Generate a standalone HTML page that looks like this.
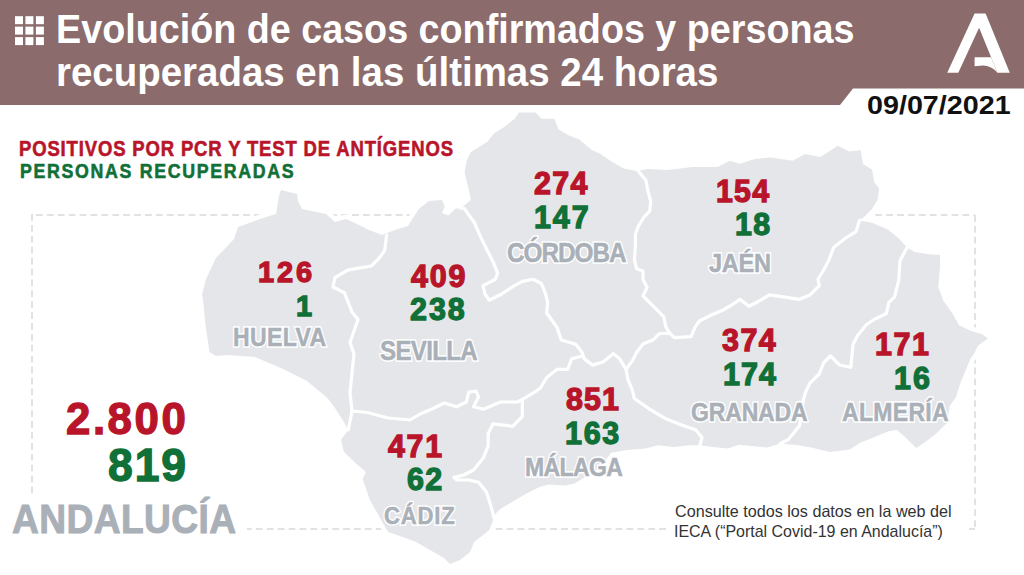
<!DOCTYPE html>
<html><head><meta charset="utf-8"><style>
html,body{margin:0;padding:0;background:#fff;}
body{width:1024px;height:575px;position:relative;overflow:hidden;font-family:"Liberation Sans",sans-serif;}
.t{position:absolute;white-space:nowrap;transform-origin:0 0;}
</style></head><body>
<svg width="1024" height="575" style="position:absolute;left:0;top:0">
<path d="M36,215 H975 M975,215 V529 M975,529 H969 M666,529 H247 M32,214 V494.5" fill="none" stroke="#d9d9d9" stroke-width="1.5" stroke-dasharray="6.8,4.1"/>
<polygon points="281.0,190.0 297.0,194.0 298.0,201.0 302.0,209.0 326.0,214.0 335.0,222.0 346.0,219.0 357.0,224.0 369.0,230.0 382.0,235.0 395.0,230.0 408.0,226.0 418.7,209.0 429.0,201.0 442.0,200.0 444.7,206.5 442.0,213.0 448.6,215.6 455.0,209.0 463.0,206.5 470.9,200.0 468.8,189.7 464.6,173.0 466.7,160.5 470.9,152.1 487.5,141.7 493.8,133.4 504.2,127.1 514.7,118.8 518.8,112.5 535.5,112.5 541.8,118.8 554.3,118.8 558.5,129.2 569.0,135.5 579.3,139.6 591.8,150.0 600.0,153.8 611.5,161.5 623.0,168.2 636.3,171.0 647.8,169.1 667.5,170.0 692.6,167.0 717.6,167.0 730.0,160.7 739.5,163.8 755.0,159.0 770.8,157.5 792.7,160.7 805.0,154.0 820.0,157.0 829.0,151.5 838.0,145.8 849.4,151.5 860.7,150.3 863.0,164.0 872.0,169.5 874.2,182.0 879.2,188.8 877.6,200.0 872.0,209.0 864.0,217.0 859.5,220.4 872.0,222.7 887.8,229.4 899.0,238.5 907.0,247.5 915.0,252.0 928.5,254.3 940.0,255.0 940.0,266.0 938.3,287.0 943.5,300.9 952.2,313.0 959.0,325.2 971.3,331.0 981.7,334.0 987.8,338.3 983.5,341.7 978.3,345.2 974.8,352.2 970.4,359.0 966.0,369.6 960.9,381.7 955.7,397.4 949.7,406.0 947.0,423.0 935.8,434.0 924.7,442.4 916.3,448.0 905.0,436.9 896.9,430.0 888.5,431.3 874.6,436.9 860.7,442.4 849.6,449.4 830.0,452.0 813.4,448.0 796.7,445.0 780.0,443.8 767.0,447.5 739.0,444.7 728.0,448.4 713.0,446.9 700.0,445.3 689.0,445.3 673.8,446.9 658.0,445.3 645.6,448.4 627.0,450.0 611.2,452.7 598.6,469.0 582.0,479.0 574.0,483.8 564.6,485.4 548.9,484.6 539.5,487.0 527.0,493.2 511.3,502.6 500.4,509.0 495.7,513.6 492.5,521.4 489.4,530.0 482.0,536.0 474.0,542.0 470.0,552.0 460.0,560.0 450.0,564.0 444.0,558.0 430.0,550.0 416.0,542.0 400.0,536.0 388.0,532.0 380.0,518.0 370.0,500.0 362.6,479.0 366.0,472.0 356.5,464.0 344.0,452.0 341.0,440.0 344.0,435.6 348.0,430.0 344.5,423.0 336.0,409.5 329.0,400.0 325.6,396.5 307.0,381.0 281.0,368.0 255.0,357.0 229.0,355.0 216.0,356.0 209.5,352.0 205.6,326.0 203.0,300.0 202.0,295.0 206.0,279.0 216.0,258.0 234.0,239.0 238.0,227.0 260.0,219.0 276.0,214.0 279.0,196.0" fill="#e5e6e9" stroke="#ffffff" stroke-width="9" stroke-linejoin="round" paint-order="stroke"/>
<polyline points="386.6,235.0 384.7,250.6 379.0,258.3 371.3,266.0 348.3,269.8 335.0,277.5 333.0,287.0 344.5,292.8 352.0,312.0 358.0,319.6 354.0,331.0 350.0,342.6 354.0,354.0 352.0,373.0 350.0,392.4 352.0,411.0 348.3,430.0" fill="none" stroke="#ffffff" stroke-width="3.2" stroke-linejoin="round" stroke-linecap="round"/>
<polyline points="352.0,411.0 367.5,412.5 388.0,418.0 410.0,420.0 420.0,414.0 432.0,409.0 444.4,403.0 456.5,406.8 466.3,402.0 468.7,392.2 476.0,391.0 478.5,397.0 473.6,406.8 483.3,409.2 500.4,402.0 517.4,402.0 522.3,399.5" fill="none" stroke="#ffffff" stroke-width="3.2" stroke-linejoin="round" stroke-linecap="round"/>
<polyline points="460.0,208.0 464.2,208.3 474.6,223.0 480.9,237.6 487.1,250.0 493.4,262.6 497.6,273.0 495.5,279.3 483.0,285.6 485.0,294.0 489.2,300.2 501.7,294.0 514.3,285.6 522.6,281.4 533.0,279.3 541.4,283.5 545.6,294.0 547.7,302.5 546.7,313.0 557.1,327.6 561.3,340.0 575.9,344.3 582.2,352.6 584.3,358.9" fill="none" stroke="#ffffff" stroke-width="3.2" stroke-linejoin="round" stroke-linecap="round"/>
<polyline points="584.3,358.9 592.6,365.1 603.0,362.0 613.5,353.6 619.7,358.9 626.0,369.3" fill="none" stroke="#ffffff" stroke-width="3.2" stroke-linejoin="round" stroke-linecap="round"/>
<polyline points="582.0,356.0 571.7,358.9 567.6,369.3 557.1,369.3 546.7,377.6 540.4,388.0 534.5,392.2 522.3,399.5" fill="none" stroke="#ffffff" stroke-width="3.2" stroke-linejoin="round" stroke-linecap="round"/>
<polyline points="522.3,399.5 522.3,416.5 512.6,426.3 493.0,423.8 488.2,433.6 488.2,445.8 483.3,458.0 473.6,470.0 463.8,475.0 454.0,477.4 456.5,480.0 468.7,480.0 478.5,482.3 486.3,491.7 489.4,501.0 492.5,512.0 494.0,518.0" fill="none" stroke="#ffffff" stroke-width="3.2" stroke-linejoin="round" stroke-linecap="round"/>
<polyline points="626.0,369.3 628.0,379.7 632.3,390.2 634.3,398.5 650.0,409.4 666.0,418.8 681.6,425.0 695.6,429.7 702.0,437.5 700.0,445.3" fill="none" stroke="#ffffff" stroke-width="3.2" stroke-linejoin="round" stroke-linecap="round"/>
<polyline points="626.0,369.3 632.5,360.6 636.7,352.3 643.0,344.0 653.4,339.7 659.6,333.5 670.0,333.5" fill="none" stroke="#ffffff" stroke-width="3.2" stroke-linejoin="round" stroke-linecap="round"/>
<polyline points="638.2,171.0 646.0,180.6 647.8,190.2 650.7,201.6 649.7,211.2 644.0,217.0 638.2,226.5 635.4,234.0 635.4,245.6 634.4,260.0 636.7,268.8 643.0,270.9 643.0,279.2 647.1,287.6 643.0,295.9 647.1,300.0 655.5,308.4 663.8,316.8 665.9,327.2 670.0,333.5" fill="none" stroke="#ffffff" stroke-width="3.2" stroke-linejoin="round" stroke-linecap="round"/>
<polyline points="670.0,333.5 674.3,337.6 691.0,336.6 695.1,327.2 699.3,321.0 711.8,314.7 722.2,310.5 732.7,304.3 740.0,299.4 749.0,306.2 758.0,301.7 769.4,294.9 785.2,297.1 798.8,299.4 810.0,294.9 819.2,285.8 818.0,279.0 823.7,270.0 829.0,260.0 833.6,247.5 844.9,238.5 856.0,231.7 859.5,220.4" fill="none" stroke="#ffffff" stroke-width="3.2" stroke-linejoin="round" stroke-linecap="round"/>
<polyline points="907.0,247.5 900.0,260.7 898.8,280.0 894.6,296.9 889.0,302.4 886.3,313.6 875.0,319.0 866.7,324.3 857.6,335.6 853.0,344.6 850.8,367.3 839.5,365.0 830.5,356.0 823.7,362.7 819.2,374.0 810.0,383.0 805.6,392.0 803.3,400.0 799.5,425.7 788.3,439.6 780.0,443.8" fill="none" stroke="#ffffff" stroke-width="3.2" stroke-linejoin="round" stroke-linecap="round"/>
<path d="M0,0 H1024 V88.5 H853 L840,105 H0 Z" fill="#8b6b6b"/>
<rect x="15.0" y="16.2" width="8" height="8" fill="#fff"/>
<rect x="15.0" y="26.6" width="8" height="8" fill="#fff"/>
<rect x="15.0" y="37.1" width="8" height="8" fill="#fff"/>
<rect x="25.4" y="16.2" width="8" height="8" fill="#fff"/>
<rect x="25.4" y="26.6" width="8" height="8" fill="#fff"/>
<rect x="25.4" y="37.1" width="8" height="8" fill="#fff"/>
<rect x="35.9" y="16.2" width="8" height="8" fill="#fff"/>
<rect x="35.9" y="26.6" width="8" height="8" fill="#fff"/>
<rect x="35.9" y="37.1" width="8" height="8" fill="#fff"/>
<path d="M974.6,13.5 L985.6,13.5 L1009.8,72.8 L997.4,72.8 L979.1,27.8 L958.3,72.8 L947.2,72.8 Z" fill="#fff"/>
<path d="M974.6,57.2 L991,57.2 L997.4,72.8 C994,68.5 988,65.5 983,65.6 L974.6,66.3 Z" fill="#fff"/>
</svg>
<div class="t" style="left:56.04px;top:8.73px;font-size:40.84px;line-height:40.84px;font-weight:700;letter-spacing:0.000px;transform:scaleX(0.9237);color:#ffffff">Evolución de casos confirmados y personas</div>
<div class="t" style="left:55.99px;top:52.33px;font-size:40.72px;line-height:40.72px;font-weight:700;letter-spacing:0.000px;transform:scaleX(0.9441);color:#ffffff">recuperadas en las últimas 24 horas</div>
<div class="t" style="left:867.14px;top:91.85px;font-size:26.16px;line-height:26.16px;font-weight:700;letter-spacing:0.000px;transform:scaleX(1.0968);color:#111111">09/07/2021</div>
<div class="t" style="left:19.49px;top:139.49px;font-size:21.51px;line-height:21.51px;font-weight:700;letter-spacing:0.988px;transform:scaleX(0.8600);color:#b8152a;-webkit-text-stroke:0.60px #b8152a">POSITIVOS POR PCR Y TEST DE ANTÍGENOS</div>
<div class="t" style="left:19.54px;top:160.53px;font-size:20.64px;line-height:20.64px;font-weight:700;letter-spacing:1.970px;transform:scaleX(0.8600);color:#107037;-webkit-text-stroke:0.60px #107037">PERSONAS RECUPERADAS</div>
<div class="t" style="left:66.13px;top:395.99px;font-size:45.20px;line-height:45.20px;font-weight:700;letter-spacing:2.597px;transform:scaleX(0.9700);color:#b8152a;-webkit-text-stroke:1.30px #b8152a">2.800</div>
<div class="t" style="left:107.91px;top:443.37px;font-size:45.93px;line-height:45.93px;font-weight:700;letter-spacing:1.914px;transform:scaleX(0.9700);color:#107037;-webkit-text-stroke:1.30px #107037">819</div>
<div class="t" style="left:12.26px;top:498.76px;font-size:41.28px;line-height:41.28px;font-weight:700;letter-spacing:0.451px;transform:scaleX(0.9000);color:#aab0b8;-webkit-text-stroke:1.00px #aab0b8">ANDALUCÍA</div>
<div class="t" style="left:258.11px;top:257.40px;font-size:29.94px;line-height:29.94px;font-weight:700;letter-spacing:2.956px;transform:scaleX(0.9700);color:#b8152a;-webkit-text-stroke:1.30px #b8152a">126</div>
<div class="t" style="left:295.51px;top:290.90px;font-size:29.94px;line-height:29.94px;font-weight:700;letter-spacing:0.000px;transform:scaleX(0.9664);color:#107037;-webkit-text-stroke:1.30px #107037">1</div>
<div class="t" style="left:233.27px;top:325.30px;font-size:25.58px;line-height:25.58px;font-weight:700;letter-spacing:0.434px;transform:scaleX(0.9000);color:#fff;-webkit-text-stroke:3.50px #fff">HUELVA</div>
<div class="t" style="left:233.27px;top:325.30px;font-size:25.58px;line-height:25.58px;font-weight:700;letter-spacing:0.434px;transform:scaleX(0.9000);color:#aab0b8;-webkit-text-stroke:0.50px #aab0b8">HUELVA</div>
<div class="t" style="left:411.05px;top:261.27px;font-size:31.40px;line-height:31.40px;font-weight:700;letter-spacing:1.853px;transform:scaleX(0.9700);color:#b8152a;-webkit-text-stroke:1.30px #b8152a">409</div>
<div class="t" style="left:410.44px;top:293.67px;font-size:31.40px;line-height:31.40px;font-weight:700;letter-spacing:2.010px;transform:scaleX(0.9700);color:#107037;-webkit-text-stroke:1.30px #107037">238</div>
<div class="t" style="left:380.17px;top:338.21px;font-size:26.74px;line-height:26.74px;font-weight:700;letter-spacing:-0.745px;transform:scaleX(0.9000);color:#fff;-webkit-text-stroke:3.50px #fff">SEVILLA</div>
<div class="t" style="left:380.17px;top:338.21px;font-size:26.74px;line-height:26.74px;font-weight:700;letter-spacing:-0.745px;transform:scaleX(0.9000);color:#aab0b8;-webkit-text-stroke:0.50px #aab0b8">SEVILLA</div>
<div class="t" style="left:534.14px;top:168.07px;font-size:31.40px;line-height:31.40px;font-weight:700;letter-spacing:1.385px;transform:scaleX(0.9700);color:#b8152a;-webkit-text-stroke:1.30px #b8152a">274</div>
<div class="t" style="left:534.22px;top:201.57px;font-size:31.40px;line-height:31.40px;font-weight:700;letter-spacing:1.968px;transform:scaleX(0.9700);color:#107037;-webkit-text-stroke:1.30px #107037">147</div>
<div class="t" style="left:506.88px;top:239.76px;font-size:27.03px;line-height:27.03px;font-weight:700;letter-spacing:-1.129px;transform:scaleX(0.9000);color:#fff;-webkit-text-stroke:3.50px #fff">CÓRDOBA</div>
<div class="t" style="left:506.88px;top:239.76px;font-size:27.03px;line-height:27.03px;font-weight:700;letter-spacing:-1.129px;transform:scaleX(0.9000);color:#aab0b8;-webkit-text-stroke:0.50px #aab0b8">CÓRDOBA</div>
<div class="t" style="left:715.83px;top:175.50px;font-size:31.25px;line-height:31.25px;font-weight:700;letter-spacing:1.303px;transform:scaleX(0.9700);color:#b8152a;-webkit-text-stroke:1.30px #b8152a">154</div>
<div class="t" style="left:734.73px;top:208.90px;font-size:31.25px;line-height:31.25px;font-weight:700;letter-spacing:1.438px;transform:scaleX(0.9700);color:#107037;-webkit-text-stroke:1.30px #107037">18</div>
<div class="t" style="left:708.81px;top:249.70px;font-size:26.16px;line-height:26.16px;font-weight:700;letter-spacing:-0.263px;transform:scaleX(0.9000);color:#fff;-webkit-text-stroke:3.50px #fff">JAÉN</div>
<div class="t" style="left:708.81px;top:249.70px;font-size:26.16px;line-height:26.16px;font-weight:700;letter-spacing:-0.263px;transform:scaleX(0.9000);color:#aab0b8;-webkit-text-stroke:0.50px #aab0b8">JAÉN</div>
<div class="t" style="left:722.04px;top:325.27px;font-size:31.40px;line-height:31.40px;font-weight:700;letter-spacing:1.537px;transform:scaleX(0.9700);color:#b8152a;-webkit-text-stroke:1.30px #b8152a">374</div>
<div class="t" style="left:722.82px;top:358.67px;font-size:31.40px;line-height:31.40px;font-weight:700;letter-spacing:1.134px;transform:scaleX(0.9700);color:#107037;-webkit-text-stroke:1.30px #107037">174</div>
<div class="t" style="left:690.83px;top:400.00px;font-size:25.58px;line-height:25.58px;font-weight:700;letter-spacing:-0.192px;transform:scaleX(0.9000);color:#fff;-webkit-text-stroke:3.50px #fff">GRANADA</div>
<div class="t" style="left:690.83px;top:400.00px;font-size:25.58px;line-height:25.58px;font-weight:700;letter-spacing:-0.192px;transform:scaleX(0.9000);color:#aab0b8;-webkit-text-stroke:0.50px #aab0b8">GRANADA</div>
<div class="t" style="left:874.72px;top:329.07px;font-size:31.40px;line-height:31.40px;font-weight:700;letter-spacing:1.605px;transform:scaleX(0.9700);color:#b8152a;-webkit-text-stroke:1.30px #b8152a">171</div>
<div class="t" style="left:893.82px;top:363.47px;font-size:31.40px;line-height:31.40px;font-weight:700;letter-spacing:2.221px;transform:scaleX(0.9700);color:#107037;-webkit-text-stroke:1.30px #107037">16</div>
<div class="t" style="left:842.19px;top:400.00px;font-size:25.58px;line-height:25.58px;font-weight:700;letter-spacing:0.333px;transform:scaleX(0.9000);color:#fff;-webkit-text-stroke:3.50px #fff">ALMERÍA</div>
<div class="t" style="left:842.19px;top:400.00px;font-size:25.58px;line-height:25.58px;font-weight:700;letter-spacing:0.333px;transform:scaleX(0.9000);color:#aab0b8;-webkit-text-stroke:0.50px #aab0b8">ALMERÍA</div>
<div class="t" style="left:566.14px;top:384.27px;font-size:31.40px;line-height:31.40px;font-weight:700;letter-spacing:1.134px;transform:scaleX(0.9700);color:#b8152a;-webkit-text-stroke:1.30px #b8152a">851</div>
<div class="t" style="left:565.22px;top:417.67px;font-size:31.40px;line-height:31.40px;font-weight:700;letter-spacing:1.762px;transform:scaleX(0.9700);color:#107037;-webkit-text-stroke:1.30px #107037">163</div>
<div class="t" style="left:525.07px;top:455.20px;font-size:25.58px;line-height:25.58px;font-weight:700;letter-spacing:-0.675px;transform:scaleX(0.9000);color:#fff;-webkit-text-stroke:3.50px #fff">MÁLAGA</div>
<div class="t" style="left:525.07px;top:455.20px;font-size:25.58px;line-height:25.58px;font-weight:700;letter-spacing:-0.675px;transform:scaleX(0.9000);color:#aab0b8;-webkit-text-stroke:0.50px #aab0b8">MÁLAGA</div>
<div class="t" style="left:388.05px;top:431.40px;font-size:31.25px;line-height:31.25px;font-weight:700;letter-spacing:1.815px;transform:scaleX(0.9700);color:#b8152a;-webkit-text-stroke:1.30px #b8152a">471</div>
<div class="t" style="left:407.34px;top:463.67px;font-size:31.40px;line-height:31.40px;font-weight:700;letter-spacing:1.279px;transform:scaleX(0.9700);color:#107037;-webkit-text-stroke:1.30px #107037">62</div>
<div class="t" style="left:383.97px;top:503.76px;font-size:24.56px;line-height:24.56px;font-weight:700;letter-spacing:0.890px;transform:scaleX(0.9000);color:#fff;-webkit-text-stroke:3.50px #fff">CÁDIZ</div>
<div class="t" style="left:383.97px;top:503.76px;font-size:24.56px;line-height:24.56px;font-weight:700;letter-spacing:0.890px;transform:scaleX(0.9000);color:#aab0b8;-webkit-text-stroke:0.50px #aab0b8">CÁDIZ</div>
<div class="t" style="left:674.69px;top:504.35px;font-size:16.72px;line-height:16.72px;font-weight:400;letter-spacing:0.000px;transform:scaleX(0.9672);color:#333333">Consulte todos los datos en la web del</div>
<div class="t" style="left:674.06px;top:524.21px;font-size:15.70px;line-height:15.70px;font-weight:400;letter-spacing:0.000px;transform:scaleX(1.0176);color:#333333">IECA (“Portal Covid-19 en Andalucía”)</div>
</body></html>
